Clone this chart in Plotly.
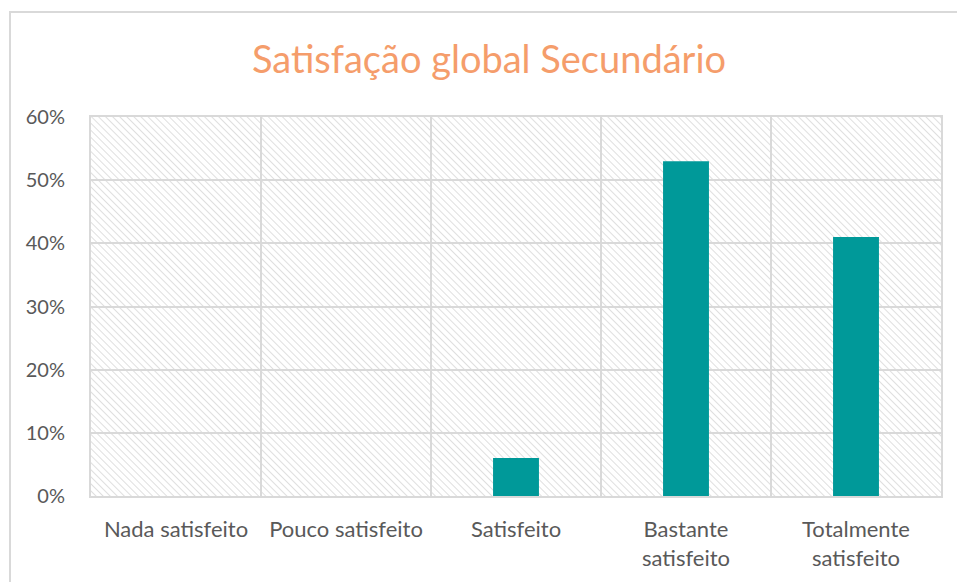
import base64
import plotly.graph_objects as go

categories = ["Nada satisfeito", "Pouco satisfeito", "Satisfeito",
              "Bastante<br>satisfeito", "Totalmente<br>satisfeito"]
values = [0.0, 0.0, 0.06, 0.53, 0.41]
title_text = "Satisfação global Secundário"

W, H = 957, 582
L, R, T, B = 91, 16, 117, 86
pw, ph = W - L - R, H - T - B

svg = f'''<svg xmlns="http://www.w3.org/2000/svg" width="{pw}" height="{ph}">
<defs><pattern id="p" width="5" height="5" patternUnits="userSpaceOnUse" patternTransform="rotate(-45)">
<line x1="0" y1="0" x2="0" y2="5" stroke="#dcdcdc" stroke-width="1.8"/></pattern></defs>
<rect width="{pw}" height="{ph}" fill="#ffffff"/>
<rect width="{pw}" height="{ph}" fill="url(#p)"/></svg>'''
src = "data:image/svg+xml;base64," + base64.b64encode(svg.encode()).decode()

fig = go.Figure(go.Bar(x=categories, y=values, marker=dict(color="#009999", line=dict(width=0)),
                       hoverinfo="skip"))

grid = "#d9d9d9"
fig.update_layout(
    width=W, height=H,
    margin=dict(l=L, r=R, t=T, b=B),
    paper_bgcolor="white", plot_bgcolor="white",
    bargap=0.73,
    showlegend=False,
    font=dict(family="Lato", color="#595959", size=20),
    title=dict(text=title_text, x=489 / W, xref="container", xanchor="center",
               y=1 - 60 / H, yref="container", yanchor="middle",
               font=dict(family="Lato", size=38, color="#F59D6B")),
    xaxis=dict(type="category", tickson="boundaries", showgrid=True, gridcolor=grid, gridwidth=2,
               showline=True, linecolor=grid, linewidth=2, mirror=True, ticks="",
               ticklabelstandoff=13, tickfont=dict(size=22, color="#595959")),
    yaxis=dict(range=[0, 0.6], dtick=0.1, tickformat=".0%", showgrid=True, gridcolor=grid, gridwidth=2,
               showline=True, linecolor=grid, linewidth=2, mirror=True, ticks="",
               zeroline=False, ticklabelstandoff=20, tickfont=dict(size=20, color="#595959")),
    images=[dict(source=src, xref="paper", yref="paper", x=0, y=1, sizex=1, sizey=1,
                 xanchor="left", yanchor="top", sizing="stretch", layer="below")],
    shapes=[dict(type="rect", xref="paper", yref="paper",
                 x0=(10 - L) / pw, x1=(W + 10 - L) / pw,
                 y0=-(B + 10) / ph, y1=1 + (T - 12) / ph,
                 line=dict(color=grid, width=2), fillcolor="rgba(0,0,0,0)", layer="below")],
)

fig.write_html("out.html", config={"displayModeBar": False},
               post_script="document.body.style.margin='0';document.body.style.overflow='hidden';")
